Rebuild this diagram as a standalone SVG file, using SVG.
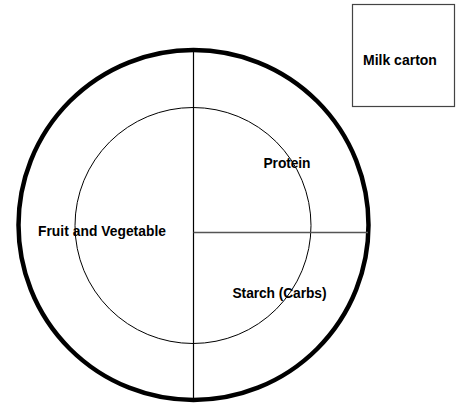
<svg xmlns="http://www.w3.org/2000/svg" width="459" height="404" viewBox="0 0 459 404">
<style>
.lbl{font-family:"Liberation Sans",Arial,sans-serif;font-weight:bold;font-size:13.8px;fill:#000}
.thin{fill:none;stroke:#000;stroke-width:1}
</style>
<rect width="459" height="404" fill="#fff"/>
<g id="plate">
<circle cx="193.5" cy="225" r="175" fill="none" stroke="#000" stroke-width="4.5"/>
<circle class="thin" cx="193" cy="225.5" r="118"/>
</g>
<g id="connectors">
<line x1="193.5" y1="49" x2="193.5" y2="401" stroke="#000" stroke-width="1.2"/>
<line x1="193.5" y1="232.5" x2="368" y2="232.5" stroke="#555" stroke-width="1.5"/>
</g>
<g id="fruit-veg"><text class="lbl" x="38" y="236" textLength="128" lengthAdjust="spacing">Fruit and Vegetable</text></g>
<g id="protein"><text class="lbl" x="263.5" y="167.5" textLength="47" lengthAdjust="spacing">Protein</text></g>
<g id="starch"><text class="lbl" x="232.5" y="298" textLength="94" lengthAdjust="spacing">Starch (Carbs)</text></g>
<g id="milk">
<rect x="352.5" y="4.5" width="102" height="102" fill="none" stroke="#444" stroke-width="1.2"/>
<text class="lbl" x="363" y="65" style="font-size:14px">Milk carton</text>
</g>
</svg>
